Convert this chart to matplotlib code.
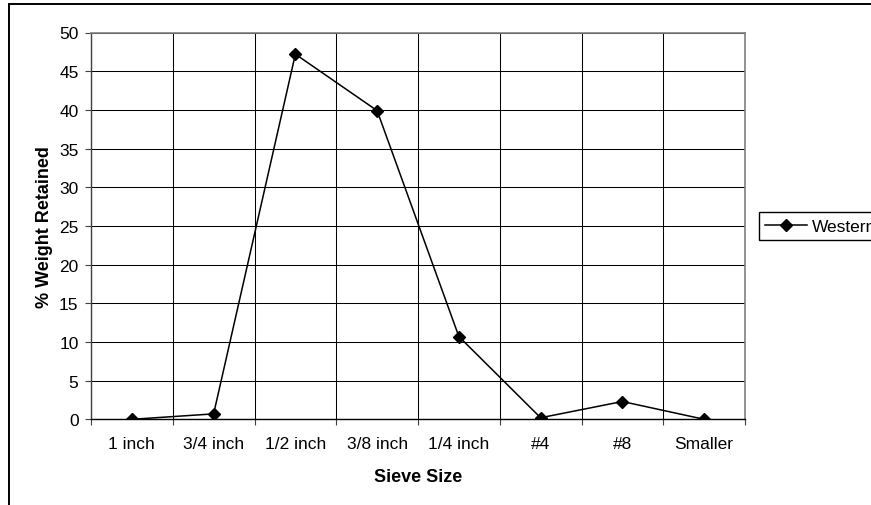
import numpy as np
import matplotlib.pyplot as plt
from matplotlib.patches import Rectangle
from matplotlib.lines import Line2D

plt.rcParams['font.family'] = ['Liberation Sans', 'DejaVu Sans']

# Sieve analysis data
sieve_sizes = ['1 inch', '3/4 inch', '1/2 inch', '3/8 inch', '1/4 inch', '#4', '#8', 'Smaller']
pct_retained = [0.0, 0.7, 47.2, 39.9, 10.7, 0.2, 2.3, 0.0]
y_ticks = [0, 5, 10, 15, 20, 25, 30, 35, 40, 45, 50]
series_name = 'Western'

W, H = 871, 506
fig = plt.figure(figsize=(W / 100, H / 100), dpi=100)

# plot area in pixel terms
left, right, top, bottom = 91, 745, 33.5, 420.3
ax = fig.add_axes([left / W, 1 - bottom / H, (right - left) / W, (bottom - top) / H])

x = np.arange(len(sieve_sizes))
ax.plot(x, pct_retained, color='black', lw=1.1, marker='D', markersize=6.5,
        markerfacecolor='black', markeredgecolor='black')

ax.set_xlim(-0.5, len(sieve_sizes) - 0.5)
ax.set_ylim(0, 50)

# gridlines sit between categories, labels at the category centres
ax.set_xticks(np.arange(-0.5, len(sieve_sizes), 1.0))
ax.set_xticklabels([])
ax.set_xticks(x, minor=True)
ax.set_xticklabels(sieve_sizes, minor=True, fontsize=12.5)
ax.tick_params(axis='x', which='minor', length=0, pad=12)
ax.tick_params(axis='x', which='major', direction='out', length=4, width=0.8, color='#404040')

ax.set_yticks(y_ticks)
ax.set_yticklabels([str(v) for v in y_ticks], fontsize=12.5)
ax.tick_params(axis='y', direction='out', length=4, width=0.8, color='#404040', pad=5)

ax.grid(True, which='major', color='black', lw=0.75)
ax.set_axisbelow(True)

for side in ['top', 'right']:
    ax.spines[side].set_color('#808080')
    ax.spines[side].set_linewidth(1.2)
ax.spines['left'].set_color('#404040')
ax.spines['bottom'].set_color('black')
ax.spines['left'].set_linewidth(1.0)
ax.spines['bottom'].set_linewidth(1.0)

ax.set_xlabel('Sieve Size', fontsize=13, fontweight='bold', labelpad=12)
ax.set_ylabel('% Weight Retained', fontsize=13, fontweight='bold', labelpad=4)

# legend box on the right, running off the edge
handle = Line2D([], [], color='black', lw=1.1, marker='D', markersize=6.5,
                markerfacecolor='black')
fig.legend([handle], [series_name], loc='center left',
           bbox_to_anchor=(759 / W, 1 - 227 / H), fontsize=12.5,
           frameon=True, fancybox=False, edgecolor='black', framealpha=1,
           handlelength=2.4, handletextpad=0.3, borderpad=0.35, borderaxespad=0)

# outer chart border
fig.add_artist(Rectangle((9 / W, -0.1), 1.2, 1 - 5 / H + 0.1, transform=fig.transFigure,
                         fill=False, edgecolor='black', lw=1.4))

fig.savefig('out.png', dpi=100)
